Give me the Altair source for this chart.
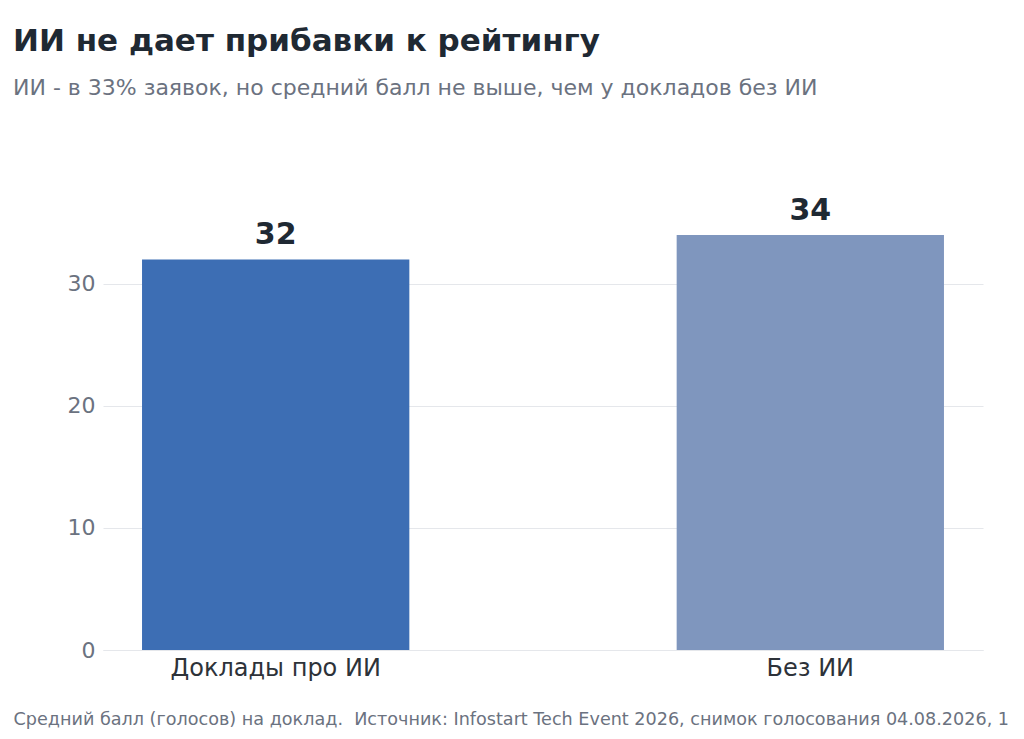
import altair as alt
import pandas as pd

categories = ["Доклады про ИИ", "Без ИИ"]
values = [32, 34]
colors = ["#3D6EB4", "#7F96BE"]
y_ticks = [0, 10, 20, 30]

title_text = "ИИ не дает прибавки к рейтингу"
subtitle_text = "ИИ - в 33% заявок, но средний балл не выше, чем у докладов без ИИ"
footer_text = "Средний балл (голосов) на доклад.\u00a0 Источник: Infostart Tech Event 2026, снимок голосования 04.08.2026, 1"

df = pd.DataFrame({"cat": categories, "val": values})

FONT = "DejaVu Sans"

base = alt.Chart(df).encode(
    x=alt.X(
        "cat:N",
        sort=categories,
        scale=alt.Scale(paddingInner=0.5, paddingOuter=0.073),
        axis=alt.Axis(
            title=footer_text,
            titleAnchor="start",
            titleAlign="left",
            titleX=-90,
            titleY=74,
            titleBaseline="alphabetic",
            titleFont=FONT,
            titleFontSize=17.6,
            titleFontWeight="normal",
            titleColor="#6B7280",
            titleLimit=2000,
            labelAngle=0,
            labelFont=FONT,
            labelFontSize=24,
            labelColor="#2D3239",
            labelPadding=6,
            labelLimit=0,
            domain=True,
            domainColor="#E5E7EB",
            ticks=False,
            grid=False,
        ),
    ),
    y=alt.Y(
        "val:Q",
        scale=alt.Scale(domain=[0, 39], nice=False),
        axis=alt.Axis(
            title=None,
            values=y_ticks,
            labelFont=FONT,
            labelFontSize=22,
            labelColor="#6B7280",
            labelPadding=8,
            ticks=False,
            domain=False,
            grid=True,
            gridColor="#E5E7EB",
            gridWidth=1,
        ),
    ),
)

bars = base.mark_bar().encode(
    color=alt.Color("cat:N", scale=alt.Scale(domain=categories, range=colors), legend=None)
)

labels = base.mark_text(
    baseline="alphabetic", dy=-15, font=FONT, fontSize=30, fontWeight="bold", color="#1F2933"
).encode(text=alt.Text("val:Q"))

chart = (
    (bars + labels)
    .properties(
        width=880,
        height=476,
        background="white",
        autosize=alt.AutoSizeParams(type="none"),
        padding={"left": 95, "top": 166, "right": 33, "bottom": 80},
        title=alt.TitleParams(
            text=title_text,
            subtitle=subtitle_text,
            anchor="start",
            frame="group",
            dx=-90,
            offset=74,
            font=FONT,
            fontSize=31,
            fontWeight="bold",
            color="#1F2933",
            subtitleFont=FONT,
            subtitleFontSize=22,
            subtitleColor="#6B7280",
            subtitlePadding=20,
        ),
    )
    .configure_view(strokeWidth=0)
)

chart.save("out.html", embed_options={"renderer": "svg", "actions": False})
